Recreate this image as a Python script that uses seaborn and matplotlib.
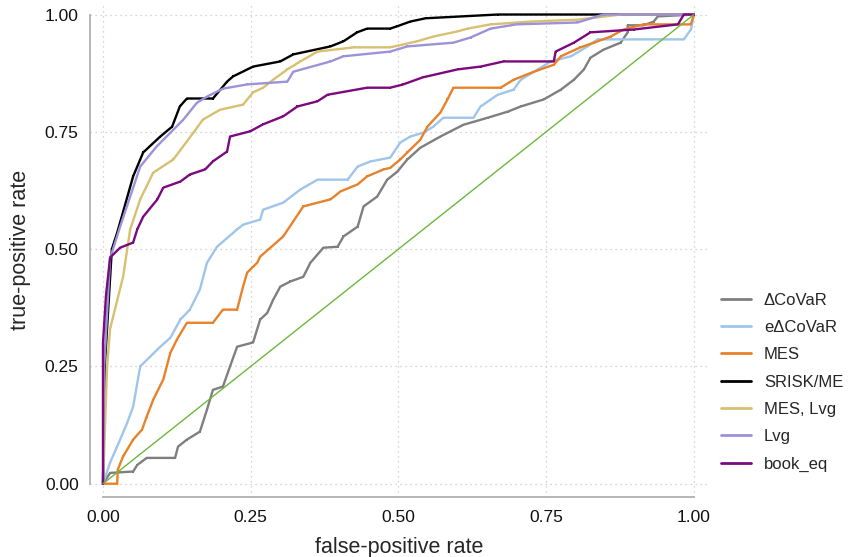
import numpy as np
import pandas as pd
import matplotlib
matplotlib.use('Agg')
import matplotlib.pyplot as plt
import seaborn as sns

# ROC curve vertices (false-positive rate, true-positive rate)
dcovar_fpr = [0, 0.012, 0.051, 0.058, 0.074, 0.122, 0.127, 0.142, 0.164, 0.176, 0.186, 0.203, 0.215,
              0.227, 0.254, 0.266, 0.278, 0.288, 0.30, 0.317, 0.339, 0.351, 0.373, 0.397, 0.407, 0.431,
              0.441, 0.464, 0.481, 0.498, 0.515, 0.537, 0.571, 0.61, 0.651, 0.685, 0.707, 0.746, 0.775,
              0.797, 0.814, 0.825, 0.847, 0.876, 0.888, 0.888, 0.915, 0.932, 0.939, 1.0]
dcovar_tpr = [0, 0.023, 0.026, 0.04, 0.055, 0.055, 0.079, 0.094, 0.111, 0.158, 0.2, 0.207, 0.25,
              0.292, 0.301, 0.35, 0.364, 0.392, 0.42, 0.431, 0.441, 0.471, 0.503, 0.505, 0.527, 0.548,
              0.591, 0.612, 0.648, 0.665, 0.691, 0.716, 0.74, 0.765, 0.78, 0.793, 0.804, 0.819, 0.84,
              0.861, 0.883, 0.908, 0.925, 0.94, 0.962, 0.977, 0.977, 0.985, 0.996, 1.0]

edcovar_fpr = [0, 0.012, 0.029, 0.041, 0.051, 0.063, 0.08, 0.097, 0.114, 0.131, 0.147, 0.164, 0.176,
               0.193, 0.227, 0.237, 0.266, 0.271, 0.305, 0.334, 0.363, 0.414, 0.431, 0.453, 0.486,
               0.492, 0.503, 0.52, 0.542, 0.559, 0.576, 0.627, 0.639, 0.668, 0.695, 0.707, 0.736, 0.758,
               0.792, 0.82, 0.837, 0.983, 0.995, 1.0]
edcovar_tpr = [0, 0.045, 0.094, 0.13, 0.164, 0.25, 0.271, 0.292, 0.311, 0.35, 0.371, 0.414, 0.471,
               0.505, 0.542, 0.552, 0.563, 0.584, 0.599, 0.627, 0.648, 0.648, 0.676, 0.687, 0.695,
               0.706, 0.727, 0.74, 0.748, 0.761, 0.78, 0.78, 0.804, 0.829, 0.84, 0.861, 0.883, 0.90,
               0.911, 0.932, 0.947, 0.947, 0.968, 1.0]

mes_fpr = [0, 0.024, 0.025, 0.034, 0.051, 0.066, 0.074, 0.085, 0.102, 0.114, 0.125, 0.142, 0.186,
           0.203, 0.227, 0.237, 0.244, 0.261, 0.266, 0.305, 0.339, 0.385, 0.402, 0.431, 0.447, 0.475,
           0.486, 0.503, 0.515, 0.537, 0.549, 0.571, 0.583, 0.593, 0.673, 0.695, 0.729, 0.763, 0.775,
           0.808, 0.831, 0.859, 0.881, 0.915, 0.995, 1.0]
mes_tpr = [0, 0, 0.03, 0.058, 0.094, 0.115, 0.143, 0.179, 0.222, 0.279, 0.307, 0.343, 0.343,
           0.371, 0.371, 0.42, 0.45, 0.471, 0.484, 0.527, 0.591, 0.606, 0.623, 0.638, 0.655, 0.67,
           0.673, 0.691, 0.706, 0.733, 0.761, 0.791, 0.819, 0.844, 0.844, 0.861, 0.878, 0.893, 0.911,
           0.93, 0.94, 0.953, 0.968, 0.979, 0.979, 1.0]

srisk_fpr = [0, 0.003, 0.015, 0.024, 0.051, 0.068, 0.097, 0.117, 0.13, 0.142, 0.186, 0.21, 0.22,
             0.254, 0.30, 0.322, 0.385, 0.407, 0.43, 0.447, 0.486, 0.498, 0.52, 0.546, 0.668, 1.0]
srisk_tpr = [0, 0.25, 0.5, 0.535, 0.655, 0.706, 0.74, 0.761, 0.804, 0.821, 0.821, 0.857, 0.868,
             0.889, 0.90, 0.915, 0.932, 0.943, 0.962, 0.97, 0.97, 0.975, 0.985, 0.992, 1.0, 1.0]

meslvg_fpr = [0, 0.007, 0.012, 0.034, 0.046, 0.063, 0.085, 0.119, 0.153, 0.169, 0.198, 0.237, 0.254,
              0.271, 0.288, 0.312, 0.334, 0.363, 0.424, 0.486, 0.532, 0.559, 0.60, 0.617, 0.656,
              0.724, 0.803, 0.837, 0.876, 1.0]
meslvg_tpr = [0, 0.25, 0.33, 0.441, 0.542, 0.606, 0.663, 0.691, 0.748, 0.776, 0.797, 0.808, 0.834,
              0.844, 0.861, 0.883, 0.90, 0.921, 0.93, 0.93, 0.943, 0.953, 0.964, 0.970, 0.979,
              0.985, 0.989, 0.994, 1.0, 1.0]

lvg_fpr = [0, 0.002, 0.012, 0.029, 0.063, 0.091, 0.114, 0.136, 0.159, 0.176, 0.203, 0.244, 0.312,
           0.322, 0.385, 0.407, 0.486, 0.515, 0.593, 0.622, 0.656, 0.70, 0.803, 0.847, 1.0]
lvg_tpr = [0, 0.25, 0.48, 0.548, 0.676, 0.719, 0.748, 0.776, 0.812, 0.825, 0.842, 0.851, 0.857,
           0.878, 0.90, 0.911, 0.921, 0.932, 0.940, 0.951, 0.970, 0.979, 0.983, 1.0, 1.0]

bookeq_fpr = [0, 0.0, 0.005, 0.012, 0.029, 0.051, 0.058, 0.068, 0.092, 0.102, 0.131, 0.147, 0.173,
              0.186, 0.21, 0.215, 0.249, 0.271, 0.305, 0.329, 0.363, 0.380, 0.447, 0.486, 0.508,
              0.541, 0.60, 0.639, 0.678, 0.763, 0.766, 0.797, 0.825, 0.898, 0.973, 0.983, 1.0]
bookeq_tpr = [0, 0.30, 0.40, 0.482, 0.503, 0.514, 0.542, 0.569, 0.606, 0.631, 0.644, 0.659, 0.670,
              0.687, 0.708, 0.74, 0.751, 0.766, 0.783, 0.804, 0.815, 0.829, 0.844, 0.844, 0.851,
              0.866, 0.883, 0.889, 0.90, 0.90, 0.921, 0.94, 0.962, 0.968, 0.979, 1.0, 1.0]

labels = ['\u0394CoVaR', 'e\u0394CoVaR', 'MES', 'SRISK/ME', 'MES, Lvg', 'Lvg', 'book_eq']
colors = ['#7f7f7f', '#9fc5ea', '#e8822a', '#000000', '#d8c070', '#9d92d8', '#7a0a7e']
series = [(dcovar_fpr, dcovar_tpr), (edcovar_fpr, edcovar_tpr), (mes_fpr, mes_tpr),
          (srisk_fpr, srisk_tpr), (meslvg_fpr, meslvg_tpr), (lvg_fpr, lvg_tpr),
          (bookeq_fpr, bookeq_tpr)]

frames = []
for lab, (fx, fy) in zip(labels, series):
    frames.append(pd.DataFrame({'fpr': fx, 'tpr': fy, 'model': lab}))
df = pd.concat(frames, ignore_index=True)

sns.set_style('white')
plt.rcParams['font.family'] = ['Liberation Sans', 'DejaVu Sans']

fig = plt.figure(figsize=(8.49, 5.57), dpi=100)
ax = fig.add_axes([0.106, 0.108, 0.728, 0.887])

sns.lineplot(data=df, x='fpr', y='tpr', hue='model', hue_order=labels,
             palette=dict(zip(labels, colors)), sort=False, estimator=None,
             linewidth=1.7, marker='s', markersize=2.0,
             markeredgewidth=0, ax=ax)
ax.plot([0, 1], [0, 1], color='#6cb83c', linewidth=1.0, zorder=5)

ax.set_xlim(-0.022, 1.024)
ax.set_ylim(-0.028, 1.025)
ticks = [0, 0.25, 0.5, 0.75, 1.0]
ax.set_xticks(ticks)
ax.set_yticks(ticks)
ax.set_xticklabels(['0.00', '0.25', '0.50', '0.75', '1.00'])
ax.set_yticklabels(['0.00', '0.25', '0.50', '0.75', '1.00'])
ax.grid(True, linestyle=(0, (1, 3)), color='#c8c8c8', linewidth=0.9)

for s in ['top', 'right']:
    ax.spines[s].set_visible(False)
ax.spines['left'].set_bounds(0, 1)
ax.spines['bottom'].set_bounds(0, 1)
for s in ['left', 'bottom']:
    ax.spines[s].set_color('#b0b0b0')
    ax.spines[s].set_linewidth(1.3)
ax.tick_params(axis='both', length=3.6, width=1.0, color='#b0b0b0',
               labelsize=12.5, labelcolor='#111111', direction='out')
ax.tick_params(axis='x', pad=6)
ax.tick_params(axis='y', pad=4.5)

ax.set_xlabel('false-positive rate', fontsize=15.5, labelpad=8.5)
ax.set_ylabel('true-positive rate', fontsize=15.5, labelpad=10)

leg = ax.legend(loc='center left', bbox_to_anchor=(0.831, 0.314), bbox_transform=fig.transFigure,
                frameon=False, fontsize=12.0, handlelength=1.8, handletextpad=0.8,
                labelspacing=0.74, title=None)
for h in leg.get_lines():
    h.set_linewidth(2.0)
    h.set_marker('')

fig.savefig('out.png', dpi=100)
